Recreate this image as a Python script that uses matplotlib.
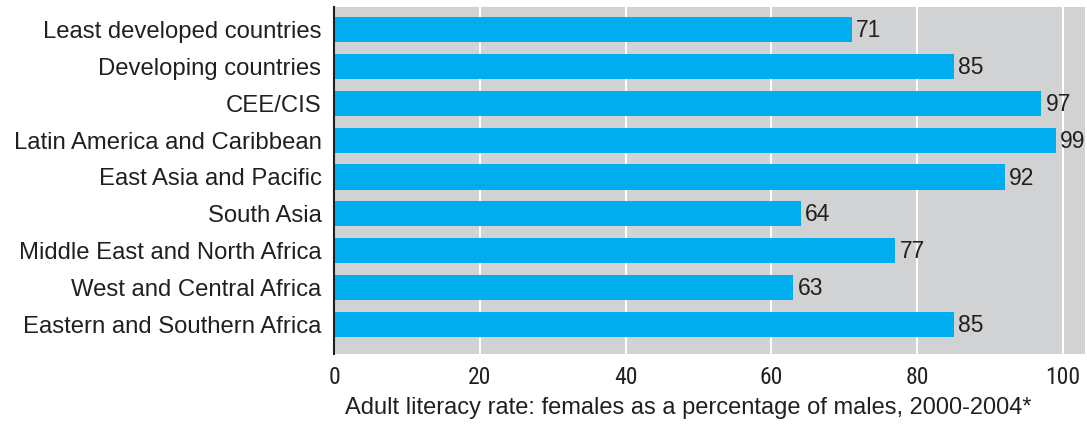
import matplotlib
matplotlib.use("Agg")
import matplotlib.pyplot as plt
from matplotlib import font_manager

categories = ["Least developed countries", "Developing countries", "CEE/CIS",
              "Latin America and Caribbean", "East Asia and Pacific", "South Asia",
              "Middle East and North Africa", "West and Central Africa",
              "Eastern and Southern Africa"]
values = [71, 85, 97, 99, 92, 64, 77, 63, 85]
xticks = [0, 20, 40, 60, 80, 100]
xlabel = "Adult literacy rate: females as a percentage of males, 2000-2004*"

fl = font_manager.fontManager.ttflist
names = {f.name for f in fl}
narrow_props = None
for cand in ["Liberation Sans Narrow", "Roboto Condensed", "Open Sans Condensed"]:
    if cand in names:
        narrow_props = dict(family=cand)
        break
if narrow_props is None:
    cond = [f for f in fl if f.name == "DejaVu Sans" and "condensed" in str(f.stretch).lower()]
    if cond:
        narrow_props = dict(fname=cond[0].fname)
if narrow_props is None:
    narrow_props = dict(family="Liberation Sans")

def nfont(size):
    return font_manager.FontProperties(size=size, **narrow_props)

TXT = "#231F20"
fig = plt.figure(figsize=(10.87, 4.24), dpi=100)
ax = fig.add_axes([334/1087, 1-354/424, (1085-334)/1087, (354-7)/424])
ax.set_facecolor("#D1D2D4")
for s in ["top", "right", "bottom"]:
    ax.spines[s].set_visible(False)
ax.spines["left"].set_color(TXT)
ax.spines["left"].set_linewidth(1.5)
ax.spines["left"].set_zorder(5)

ypos = list(range(len(categories)))
ax.barh(ypos, values, height=0.68, color="#00AEEF", zorder=3)
for y, v in zip(ypos, values):
    ax.text(v + 0.6, y + 0.03, str(v), va="center", ha="left",
            fontsize=16.5, family="Liberation Sans", color=TXT, zorder=4)
ax.set_xlim(0, 103)
ax.set_ylim(len(categories) - 1 + 0.8, -0.61)
ax.set_yticks(ypos)
ax.set_yticklabels(categories, fontsize=17.2, family="Liberation Sans", color=TXT)
ax.set_xticks(xticks)
ax.set_xticklabels([str(t) for t in xticks], fontproperties=nfont(17), color=TXT)
ax.tick_params(axis="both", length=0)
ax.tick_params(axis="y", pad=9)
ax.tick_params(axis="x", pad=9)
ax.xaxis.grid(True, color="white", linewidth=1.5, zorder=1)
ax.set_axisbelow(True)
fig.text(688/1087, 1-408/424, xlabel, fontsize=17, family="Liberation Sans",
         color=TXT, ha="center", va="center")
fig.savefig("out.png", dpi=100)
